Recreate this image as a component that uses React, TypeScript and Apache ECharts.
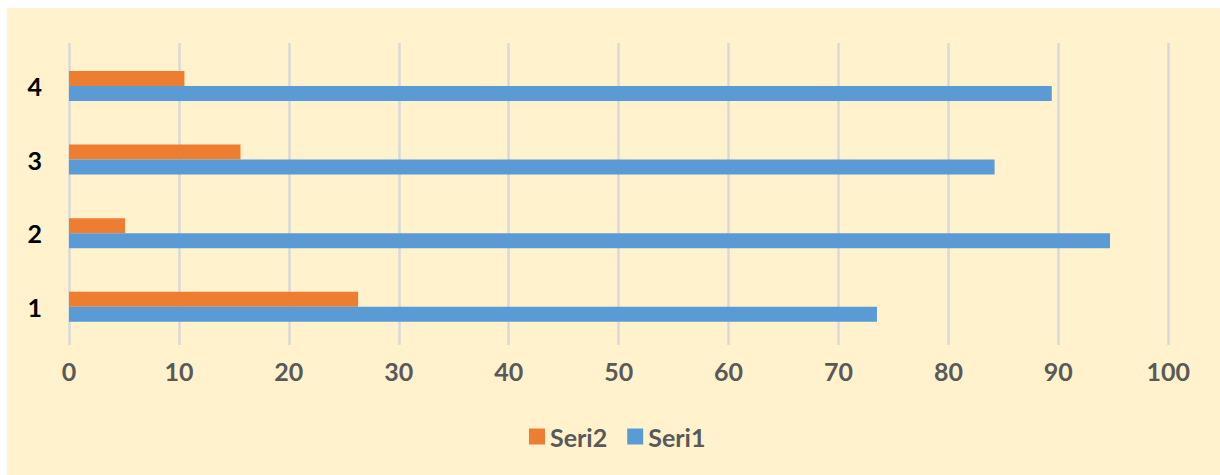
import React, { useEffect, useRef } from "react";
import * as echarts from "echarts";

const categories = ["1", "2", "3", "4"];
const seri1 = [73.5, 94.7, 84.2, 89.4];
const seri2 = [26.3, 5.1, 15.6, 10.5];
const xTicks = { min: 0, max: 100, interval: 10 };

export default function App() {
  const ref = useRef<HTMLDivElement>(null);
  useEffect(() => {
    if (!ref.current) return;
    const chart = echarts.init(ref.current, undefined, { renderer: "svg" });
    const font = "Lato, 'Open Sans', sans-serif";
    chart.setOption({
      animation: false,
      backgroundColor: "#FFF2CC",
      legend: {
        data: ["Seri2", "Seri1"],
        left: 517,
        top: 411,
        itemWidth: 16,
        itemHeight: 16,
        itemGap: 20,
        icon: "rect",
        textStyle: { color: "#595959", fontSize: 25, fontWeight: "bold", fontFamily: font },
      },
      grid: [
        { left: 62, width: 1099.3, top: 35, height: 302 },
        { left: 62, width: 1099.3, top: 41.2, height: 294.3 },
      ],
      xAxis: [
        {
          gridIndex: 0,
          type: "value",
          min: xTicks.min,
          max: xTicks.max,
          interval: xTicks.interval,
          axisLine: { show: false },
          axisTick: { show: false },
          splitLine: { show: true, lineStyle: { color: "#D9D9D9", width: 2.5 } },
          axisLabel: { color: "#595959", fontSize: 25, fontWeight: "bold", fontFamily: font, margin: 13 },
        },
        {
          gridIndex: 1,
          type: "value",
          min: xTicks.min,
          max: xTicks.max,
          show: false,
        },
      ],
      yAxis: [
        { gridIndex: 0, type: "value", show: false, min: 0, max: 1 },
        {
          gridIndex: 1,
          type: "category",
          data: categories,
          axisLine: { show: false },
          axisTick: { show: false },
          splitLine: { show: false },
          axisLabel: { color: "#000000", fontSize: 25, fontWeight: "bold", fontFamily: font, margin: 27 },
        },
      ],
      series: [
        {
          name: "Seri2",
          type: "bar",
          xAxisIndex: 1,
          yAxisIndex: 1,
          data: seri2,
          barWidth: 15,
          barGap: "0%",
          itemStyle: { color: "#ED7D31" },
        },
        {
          name: "Seri1",
          type: "bar",
          xAxisIndex: 1,
          yAxisIndex: 1,
          data: seri1,
          barWidth: 15,
          barGap: "0%",
          itemStyle: { color: "#5B9BD5" },
        },
      ],
    });
    return () => chart.dispose();
  }, []);
  return (
    <div
      ref={ref}
      style={{ position: "fixed", left: 7, top: 8, width: 1213, height: 467 }}
    />
  );
}
